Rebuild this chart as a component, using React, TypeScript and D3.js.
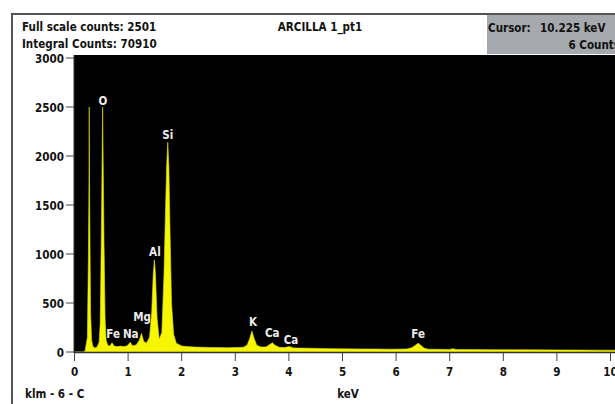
import React from "react";
import * as d3 from "d3";

const energyKeV = [
  0, 0.18, 0.2, 0.24, 0.26, 0.27, 0.275, 0.28, 0.29, 0.3, 0.32, 0.34, 0.38, 0.42, 0.46, 0.48, 0.5, 0.515, 0.525, 0.535, 0.55, 0.57, 0.59, 0.62, 0.66, 0.7, 0.74, 0.8, 0.86, 0.9, 0.98, 1.04, 1.08, 1.15, 1.21, 1.25, 1.29, 1.34, 1.4, 1.44, 1.47, 1.49, 1.51, 1.54, 1.58, 1.63, 1.67, 1.7, 1.72, 1.74, 1.76, 1.78, 1.81, 1.85, 1.9, 2.0, 2.1, 2.25, 2.4, 2.55, 2.7, 2.85, 3.0, 3.15, 3.22, 3.27, 3.31, 3.35, 3.4, 3.48, 3.57, 3.63, 3.69, 3.74, 3.82, 3.92, 4.01, 4.08, 4.2, 4.4, 4.6, 4.8, 5.0, 5.3, 5.6, 5.9, 6.2, 6.3, 6.36, 6.41, 6.46, 6.52, 6.6, 6.8, 7.0, 7.06, 7.12, 7.4, 7.8, 8.2, 8.6, 9.0, 9.4, 9.8, 10.3,
];
const counts = [
  0, 0, 20, 150, 1000, 1750, 2500, 1750, 1050, 400, 120, 60, 40, 50, 100, 300, 1150, 1950, 2500, 1950, 1150, 350, 120, 70, 60, 95, 60, 55, 60, 55, 62, 100, 65, 72, 120, 190, 110, 90, 150, 400, 800, 940, 800, 350, 130, 200, 800, 1500, 1900, 2140, 1900, 1300, 500, 180, 90, 62, 55, 50, 48, 46, 45, 44, 46, 48, 70, 140, 215, 140, 70, 50, 52, 72, 95, 70, 48, 45, 55, 42, 40, 38, 36, 34, 32, 31, 30, 29, 30, 45, 70, 90, 70, 40, 29, 27, 26, 34, 26, 25, 24, 23, 22, 21, 20, 19, 18,
];

const peakLabels = ["O", "Si", "Al", "Mg", "Fe", "Na", "K", "Ca", "Ca", "Fe"];
const peakLabelKeV = [0.53, 1.74, 1.5, 1.26, 0.72, 1.05, 3.33, 3.69, 4.04, 6.41];
const peakLabelCounts = [2520, 2170, 975, 315, 140, 140, 262, 150, 78, 140];

const yTicks = [0, 500, 1000, 1500, 2000, 2500, 3000];
const xTicks = [0, 1, 2, 3, 4, 5, 6, 7, 8, 9, 10];

const FONT = "'DejaVu Sans', sans-serif";
const SX = 0.8;

function NText(props: {
  x: number;
  y: number;
  size?: number;
  fill?: string;
  anchor?: "start" | "middle" | "end";
  children: React.ReactNode;
}) {
  const { x, y, size = 13, fill = "#111", anchor = "start", children } = props;
  return (
    <text
      transform={`translate(${x},${y}) scale(${SX},1)`}
      fontSize={size}
      fill={fill}
      textAnchor={anchor}
    >
      {children}
    </text>
  );
}

export default function App() {
  const W = 615;
  const H = 404;
  const x = d3.scaleLinear().domain([0, 10]).range([74.5, 610.5]);
  const y = d3.scaleLinear().domain([0, 3000]).range([352, 58]);

  const pts = energyKeV.map((e, i) => [e, counts[i]] as [number, number]);
  const area = d3
    .area<[number, number]>()
    .x((d) => x(d[0]))
    .y0(y(0))
    .y1((d) => y(d[1]))
    .curve(d3.curveLinear);

  return (
    <svg
      width={W}
      height={H}
      style={{ position: "absolute", left: 0, top: 0, background: "#fff" }}
      fontFamily={FONT}
      fontWeight="bold"
    >
      {/* frame */}
      <rect x={0} y={0} width={W} height={H} fill="#fff" />
      <line x1={12} x2={W} y1={14} y2={14} stroke="#555" strokeWidth={2} />
      <line x1={12} x2={12} y1={13} y2={H} stroke="#555" strokeWidth={2} />
      {/* cursor box */}
      <rect x={487} y={15} width={W - 487} height={39} fill="#a5a8ac" />
      <NText x={488} y={32}>Cursor:</NText>
      <NText x={540} y={32}>10.225 keV</NText>
      <NText x={620} y={49} anchor="end">6 Counts</NText>
      {/* header */}
      <NText x={22} y={31}>Full scale counts: 2501</NText>
      <NText x={22} y={48}>Integral Counts: 70910</NText>
      <NText x={320} y={31} anchor="middle">ARCILLA 1_pt1</NText>

      {/* plot background */}
      <rect x={74} y={55} width={W - 74} height={352 - 55} fill="#000" />
      <path d={area(pts) || ""} fill="#f6f600" stroke="#e0e000" strokeWidth={0.6} />
      <line x1={74} x2={W} y1={352.5} y2={352.5} stroke="#333" strokeWidth={1.5} />
      <line x1={74} x2={74} y1={55} y2={353} stroke="#333" strokeWidth={1} />

      {/* peak labels */}
      {peakLabels.map((l, i) => (
        <NText
          key={i}
          x={x(peakLabelKeV[i])}
          y={y(peakLabelCounts[i])}
          size={13}
          fill="#ececec"
          anchor="middle"
        >
          {l}
        </NText>
      ))}

      {/* y axis */}
      {yTicks.map((t) => (
        <g key={t}>
          <line x1={66} x2={74} y1={y(t)} y2={y(t)} stroke="#444" strokeWidth={1} />
          <NText x={64} y={y(t) + 5} anchor="end">
            {t}
          </NText>
        </g>
      ))}
      {/* x axis */}
      {xTicks.map((t) => (
        <g key={t}>
          <line x1={x(t)} x2={x(t)} y1={353} y2={361} stroke="#444" strokeWidth={1} />
          <NText x={x(t)} y={376} anchor="middle">
            {t}
          </NText>
        </g>
      ))}
      <NText x={348} y={398} anchor="middle">keV</NText>
      <NText x={25} y={398}>klm - 6 - C</NText>
    </svg>
  );
}
